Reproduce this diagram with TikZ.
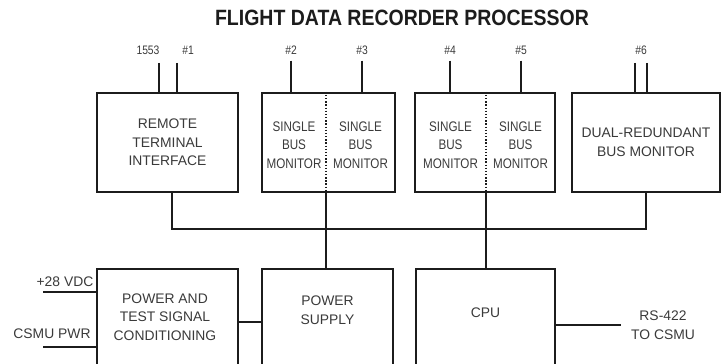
\documentclass[tikz,border=0pt]{standalone}
\usepackage{fontspec}
\setmainfont{Liberation Sans}
\newfontfamily\fdrtitle[FakeStretch=0.88]{Liberation Sans}
\newfontfamily\fdrnarrow[FakeStretch=0.84]{Liberation Sans}
\usepackage{xcolor}
\usepackage{tikz}
\definecolor{FDInk}{HTML}{1C1C1C}
\definecolor{FDText}{HTML}{3A3A3A}
\tikzset{
  fdbox/.style={draw=FDInk,line width=1.4pt,inner sep=0pt},
  fdtext/.style={align=center,text=FDText,inner sep=0pt,font=\fontsize{7.9}{10.6}\selectfont},
  fdnarrow/.style={fdtext,font=\fdrnarrow\fontsize{7.9}{10.6}\selectfont},
  fdlabel/.style={text=FDText,inner sep=0pt,font=\fdrnarrow\fontsize{7}{8}\selectfont},
  fdwire/.style={draw=FDInk,line width=0.8pt}
}
\begin{document}
\begin{tikzpicture}[x=1cm,y=1cm]
\path[use as bounding box] (0,0) rectangle (14.46,7.28);
\clip (0,0) rectangle (14.46,7.28);
\node[text=FDInk,inner sep=0pt,font=\fdrtitle\bfseries\fontsize{12.6}{14}\selectfont] (title) at (8.04,6.92) {FLIGHT DATA RECORDER PROCESSOR};
\node[fdbox,fdtext,minimum width=2.82cm,minimum height=1.98cm] (rti) at (3.35,4.43) {REMOTE\\TERMINAL\\INTERFACE};
\node[fdbox,minimum width=2.66cm,minimum height=1.98cm] (sbmA) at (6.57,4.43) {};
\node[fdbox,minimum width=2.80cm,minimum height=1.98cm] (sbmB) at (9.70,4.43) {};
\node[fdbox,fdtext,minimum width=2.96cm,minimum height=1.98cm] (drbm) at (12.92,4.43) {DUAL-REDUNDANT\\BUS MONITOR};
\node[fdnarrow] (sbmAl) at (5.88,4.38) {SINGLE\\BUS\\MONITOR};
\node[fdnarrow] (sbmAr) at (7.21,4.38) {SINGLE\\BUS\\MONITOR};
\node[fdnarrow] (sbmBl) at (9.01,4.38) {SINGLE\\BUS\\MONITOR};
\node[fdnarrow] (sbmBr) at (10.41,4.38) {SINGLE\\BUS\\MONITOR};
\coordinate (divA) at (6.52,2.70);
\coordinate (divB) at (9.72,2.70);
\draw[FDInk,line width=0.8pt,densely dotted] (sbmA.north -| divA) -- (sbmA.south -| divA);
\draw[FDInk,line width=0.8pt,densely dotted] (sbmB.north -| divB) -- (sbmB.south -| divB);
\node[fdlabel] (l1553) at (2.96,6.28) {1553};
\node[fdlabel] (l1) at (3.76,6.28) {\#1};
\node[fdlabel] (l2) at (5.82,6.28) {\#2};
\node[fdlabel] (l3) at (7.24,6.28) {\#3};
\node[fdlabel] (l4) at (9.00,6.28) {\#4};
\node[fdlabel] (l5) at (10.42,6.28) {\#5};
\node[fdlabel] (l6) at (12.82,6.28) {\#6};
\coordinate (w1553) at (3.18,6.02);
\coordinate (w1) at (3.54,6.02);
\coordinate (w6a) at (12.70,6.02);
\coordinate (w6b) at (12.94,6.02);
\draw[fdwire] (w1553) -- (w1553 |- rti.north);
\draw[fdwire] (w1) -- (w1 |- rti.north);
\draw[fdwire] ([yshift=-0.12cm]l2.south) -- (l2 |- sbmA.north);
\draw[fdwire] ([yshift=-0.12cm]l3.south) -- (l3 |- sbmA.north);
\draw[fdwire] ([yshift=-0.12cm]l4.south) -- (l4 |- sbmB.north);
\draw[fdwire] ([yshift=-0.12cm]l5.south) -- (l5 |- sbmB.north);
\draw[fdwire] (w6a) -- (w6a |- drbm.north);
\draw[fdwire] (w6b) -- (w6b |- drbm.north);
\node[fdbox,anchor=north,minimum width=2.82cm,minimum height=2.30cm] (ptsc) at (3.35,1.92) {};
\node[fdbox,anchor=north,minimum width=2.62cm,minimum height=2.30cm] (ps) at (6.55,1.92) {};
\node[fdbox,anchor=north,minimum width=2.78cm,minimum height=2.30cm] (cpu) at (9.71,1.92) {};
\node[fdtext] (ptscT) at (3.30,0.94) {POWER AND\\TEST SIGNAL\\CONDITIONING};
\node[fdtext] (psT) at (6.55,1.08) {POWER\\SUPPLY};
\node[fdtext] (cpuT) at (9.71,1.02) {CPU};
\coordinate (busL) at (3.44,2.70);
\coordinate (busR) at (12.92,2.70);
\draw[fdwire] (busL |- rti.south) -- (busL) -- (busR) -- (drbm.south);
\draw[fdwire] (sbmA.south -| divA) -- (ps.north -| divA);
\draw[fdwire] (sbmB.south -| divB) -- (cpu.north -| divB);
\coordinate (lnk) at (5.00,0.84);
\draw[fdwire] (lnk -| ptsc.east) -- (lnk -| ps.west);
\node[fdtext] (vdc) at (1.30,1.64) {+28 VDC};
\node[fdtext] (csmu) at (1.04,0.60) {CSMU PWR};
\coordinate (vdcEnd) at (0.86,1.44);
\coordinate (csmuEnd) at (0.86,0.34);
\draw[fdwire] (vdcEnd) -- (vdcEnd -| ptsc.west);
\draw[fdwire] (csmuEnd) -- (csmuEnd -| ptsc.west);
\node[fdtext] (rs) at (13.26,0.78) {RS-422\\TO CSMU};
\draw[fdwire] (rs.west -| cpu.east) -- ([xshift=-0.19cm]rs.west);
\end{tikzpicture}
\end{document}
